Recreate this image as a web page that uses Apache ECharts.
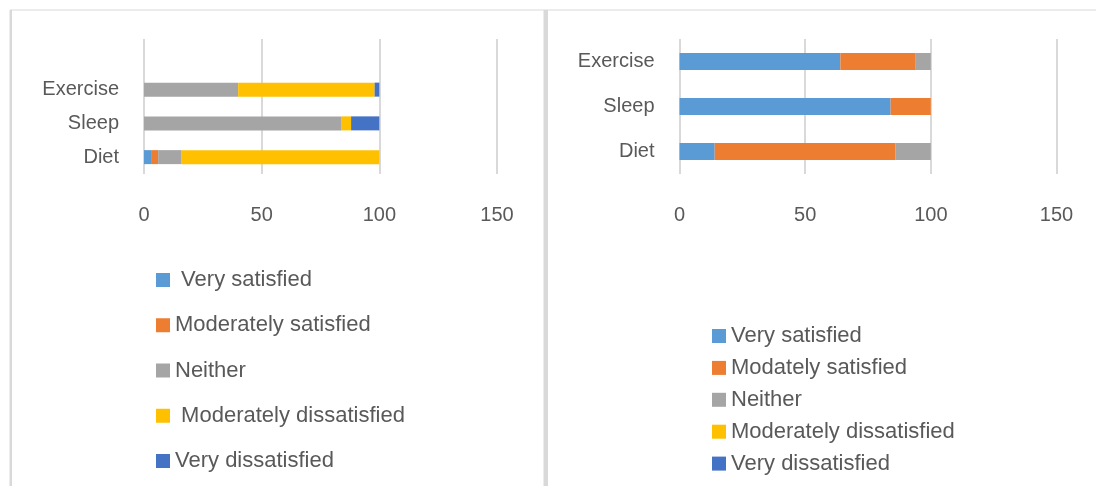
<!DOCTYPE html>
<html>
<head>
<meta charset="utf-8">
<script src="https://cdn.jsdelivr.net/npm/echarts@6/dist/echarts.min.js"></script>
<style>
  html, body { margin: 0; padding: 0; background: #ffffff; }
  #chart { width: 1096px; height: 486px; }
</style>
</head>
<body>
<div id="chart"></div>
<script>
// Left panel: satisfaction breakdown (top slot left empty)
const leftCategories = ['Diet', 'Sleep', 'Exercise', ''];
const leftNames = [' Very satisfied', 'Moderately satisfied', 'Neither', ' Moderately dissatisfied', 'Very dissatisfied'];
const leftVerySatisfied = [3, 0, 0, null];
const leftModSatisfied = [3, 0, 0, null];
const leftNeither = [10, 84, 40, null];
const leftModDissatisfied = [84, 4, 58, null];
const leftVeryDissatisfied = [0, 12, 2, null];

// Right panel
const rightCategories = ['Diet', 'Sleep', 'Exercise'];
const rightNames = ['Very satisfied', 'Modately satisfied', 'Neither', 'Moderately dissatisfied', 'Very dissatisfied'];
const rightVerySatisfied = [14, 84, 64];
const rightModSatisfied = [72, 16, 30];
const rightNeither = [14, 0, 6];
const rightModDissatisfied = [0, 0, 0];
const rightVeryDissatisfied = [0, 0, 0];

const xTicks = [0, 50, 100, 150];

const colors = ['#5B9BD5', '#ED7D31', '#A5A5A5', '#FFC000', '#4472C4'];
const FONT = '"Liberation Sans", Arial, sans-serif';
const TEXT = '#595959';
const GRID_LINE = '#d9d9d9';

const leftData = [leftVerySatisfied, leftModSatisfied, leftNeither, leftModDissatisfied, leftVeryDissatisfied];
const rightData = [rightVerySatisfied, rightModSatisfied, rightNeither, rightModDissatisfied, rightVeryDissatisfied];

function valueAxis(gridIndex) {
  return {
    type: 'value', gridIndex: gridIndex,
    min: xTicks[0], max: xTicks[xTicks.length - 1], interval: xTicks[1] - xTicks[0],
    axisLine: { show: false }, axisTick: { show: false },
    axisLabel: { color: TEXT, fontSize: 20, fontFamily: FONT, margin: 31 },
    splitLine: { show: true, lineStyle: { color: GRID_LINE, width: 2 } }
  };
}
function catAxis(gridIndex, cats) {
  return {
    type: 'category', gridIndex: gridIndex, data: cats,
    axisLine: { show: false }, axisTick: { show: false },
    axisLabel: { color: TEXT, fontSize: 20, fontFamily: FONT, margin: 25, padding: [4, 0, 0, 0] },
    splitLine: { show: false }
  };
}

const series = [];
leftNames.forEach((n, i) => series.push({
  name: n, type: 'bar', stack: 'left', xAxisIndex: 0, yAxisIndex: 0,
  barWidth: 14, data: leftData[i], itemStyle: { color: colors[i] }, silent: true
}));
rightNames.forEach((n, i) => series.push({
  name: n, type: 'bar', stack: 'right', xAxisIndex: 1, yAxisIndex: 1,
  barWidth: 17, data: rightData[i], itemStyle: { color: colors[i] }, silent: true
}));

const legendText = { color: TEXT, fontSize: 22, fontFamily: FONT, lineHeight: 22 };

const option = {
  animation: false,
  backgroundColor: '#ffffff',
  grid: [
    { left: 144, top: 39, width: 353, height: 135 },
    { left: 679.5, top: 39, width: 377, height: 135 }
  ],
  xAxis: [valueAxis(0), valueAxis(1)],
  yAxis: [catAxis(0, leftCategories), catAxis(1, rightCategories)],
  legend: [
    {
      orient: 'vertical', left: 151, top: 264, data: leftNames,
      icon: 'rect', itemWidth: 14, itemHeight: 14, itemGap: 23.25,
      textStyle: legendText, selectedMode: false
    },
    {
      orient: 'vertical', left: 707, top: 320, data: rightNames,
      icon: 'rect', itemWidth: 14, itemHeight: 14, itemGap: 9.9,
      textStyle: legendText, selectedMode: false
    }
  ],
  graphic: [
    { type: 'rect', shape: { x: 10, y: 9.5, width: 1086, height: 1 }, style: { fill: GRID_LINE } },
    { type: 'rect', shape: { x: 9.5, y: 10, width: 2.5, height: 476 }, style: { fill: GRID_LINE } },
    { type: 'rect', shape: { x: 543.5, y: 10, width: 4.5, height: 476 }, style: { fill: GRID_LINE } }
  ],
  series: series
};

echarts.init(document.getElementById('chart'), null, { renderer: 'canvas' }).setOption(option);
</script>
</body>
</html>
